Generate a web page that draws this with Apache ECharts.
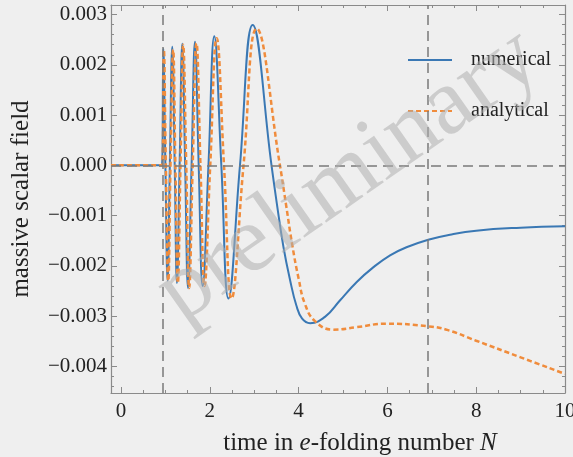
<!DOCTYPE html>
<html>
<head>
<meta charset="utf-8">
<script src="https://cdn.jsdelivr.net/npm/echarts@6/dist/echarts.min.js"></script>
<style>
  html, body { margin: 0; padding: 0; background: #efefef; }
  #chart { width: 573px; height: 457px; }
</style>
</head>
<body>
<div id="chart"></div>
<script>
// numerical solution (e-folding number, field value)
const numX = [-0.225, 0.92, 0.953, 1.0, 1.05, 1.10, 1.155, 1.21, 1.26, 1.32, 1.381, 1.445, 1.51, 1.59, 1.667, 1.75, 1.84, 1.97, 2.101, 2.26, 2.42, 2.68, 2.966, 3.39, 3.51, 3.66, 3.81, 3.95, 4.08, 4.26, 4.6, 4.93, 5.31, 5.68, 6.06, 6.43, 6.92, 7.41, 8.0, 9.0, 10.0];
const numY = [0, 0, 0.00232, 0, -0.00229, 0, 0.00236, 0, -0.00234, 0, 0.00242, 0, -0.00244, 0, 0.00246, 0, -0.0024, 0, 0.00257, 0, -0.00265, 0, 0.00279, 0, -0.00076, -0.00163, -0.00229, -0.00279, -0.00305, -0.00314, -0.00301, -0.00269, -0.00232, -0.00203, -0.00179, -0.00163, -0.00148, -0.00138, -0.0013, -0.00124, -0.00121];

// analytical approximation
const anaX = [-0.225, 0.92, 0.965, 1.01, 1.065, 1.115, 1.175, 1.225, 1.28, 1.34, 1.40, 1.47, 1.535, 1.615, 1.70, 1.79, 1.88, 2.01, 2.155, 2.32, 2.49, 2.76, 3.056, 3.58, 3.72, 3.86, 4.0, 4.14, 4.37, 4.78, 5.31, 5.98, 6.88, 7.33, 8.0, 9.0, 10.0];
const anaY = [0, 0, 0.0023, 0, -0.0023, 0, 0.0023, 0, -0.00234, 0, 0.0024, 0, -0.00244, 0, 0.00243, 0, -0.0024, 0, 0.00253, 0, -0.00265, 0, 0.00272, 0, -0.0008, -0.0016, -0.00225, -0.00275, -0.0031, -0.00327, -0.00322, -0.00315, -0.0032, -0.00327, -0.00349, -0.00382, -0.00415];

const seriesNames = ['numerical', 'analytical'];
const vLines = [0.93, 6.9];
const hLines = [0];
const xTicks = [0, 2, 4, 6, 8, 10];
const yTicks = [-0.004, -0.003, -0.002, -0.001, 0, 0.001, 0.002, 0.003];

const serif = 'Liberation Serif';
const frame = '#8a8a8a';
const xRange = [-0.225, 10];
const yRange = [-0.00453, 0.00319];

function steps(a, b, d) {
  const out = [];
  const n = Math.round((b - a) / d);
  for (let i = 0; i <= n; i++) out.push(+(a + i * d).toFixed(6));
  return out;
}
const xMinor = steps(0, 10, 0.5);
const yMinor = steps(-0.0044, 0.0030, 0.0002);

function fmtY(v) {
  const s = Math.abs(v).toFixed(3);
  return v < -1e-12 ? '\u2212' + s : s;
}

const chart = echarts.init(document.getElementById('chart'));

function axisBase(pos, range, ticks, len, showLine) {
  return {
    type: 'value', position: pos, min: range[0], max: range[1],
    axisLine: { show: showLine, onZero: false, lineStyle: { color: frame, width: 1.2 } },
    axisTick: { show: true, inside: true, length: len, customValues: ticks, lineStyle: { color: frame, width: 1 } },
    splitLine: { show: false },
    axisLabel: { show: false }
  };
}

const xMain = axisBase('bottom', xRange, xTicks, 6, true);
xMain.axisLabel = { show: true, customValues: xTicks, margin: 8, color: '#222', fontFamily: serif, fontSize: 21 };
xMain.name = '{t|time in }{i|e}{t|-folding number }{i|N}';
xMain.nameLocation = 'middle';
xMain.nameGap = 38;
xMain.nameTextStyle = {
  padding: [0, 0, 0, 44],
  rich: {
    t: { fontFamily: serif, fontSize: 25, color: '#222' },
    i: { fontFamily: serif, fontSize: 25, fontStyle: 'italic', color: '#222' }
  }
};

const yMain = axisBase('left', yRange, yTicks, 6, true);
yMain.axisLabel = { show: true, customValues: yTicks, formatter: fmtY, margin: 4, color: '#222', fontFamily: serif, fontSize: 21 };
yMain.name = 'massive scalar field';
yMain.nameLocation = 'middle';
yMain.nameGap = 77;
yMain.nameTextStyle = { fontFamily: serif, fontSize: 25, color: '#222' };

const option = {
  backgroundColor: '#efefef',
  animation: false,
  grid: { left: 111, right: 8, top: 5, bottom: 64, outerBoundsMode: 'none', containLabel: false },
  xAxis: [
    xMain,
    axisBase('bottom', xRange, xMinor, 3, false),
    axisBase('top', xRange, xTicks, 6, true),
    axisBase('top', xRange, xMinor, 3, false)
  ],
  yAxis: [
    yMain,
    axisBase('left', yRange, yMinor, 3, false),
    axisBase('right', yRange, yTicks, 6, true),
    axisBase('right', yRange, yMinor, 3, false)
  ],
  legend: {
    data: seriesNames,
    orient: 'vertical', left: 402, top: 45,
    itemWidth: 44, itemHeight: 14, itemGap: 31,
    itemStyle: { opacity: 0 },
    textStyle: { fontFamily: serif, fontSize: 20, color: '#222', padding: [0, 0, 0, 14] }
  },
  series: [
    {
      name: seriesNames[0], type: 'line', smooth: 0.45, symbol: 'none',
      data: numX.map((x, i) => [x, numY[i]]),
      lineStyle: { color: '#3a78b4', width: 2 },
      itemStyle: { color: '#3a78b4' },
      z: 3,
      markLine: {
        silent: true, symbol: 'none', label: { show: false },
        lineStyle: { color: '#7a7a7a', type: [10, 6], width: 1.5 },
        data: vLines.map(v => ({ xAxis: v })).concat(hLines.map(v => ({ yAxis: v })))
      }
    },
    {
      name: seriesNames[1], type: 'line', smooth: 0.45, symbol: 'none',
      data: anaX.map((x, i) => [x, anaY[i]]),
      lineStyle: { color: '#f08c3c', width: 2.5, type: [5, 3] },
      itemStyle: { color: '#f08c3c' },
      z: 4
    }
  ],
  graphic: [{
    type: 'text', x: 349, y: 176, rotation: 35 * Math.PI / 180, z: 100,
    style: {
      text: 'preliminary', fontFamily: serif, fontSize: 95,
      fill: 'rgba(175,175,175,0.55)', textAlign: 'center', textVerticalAlign: 'middle'
    }
  }]
};

chart.setOption(option);
</script>
</body>
</html>
